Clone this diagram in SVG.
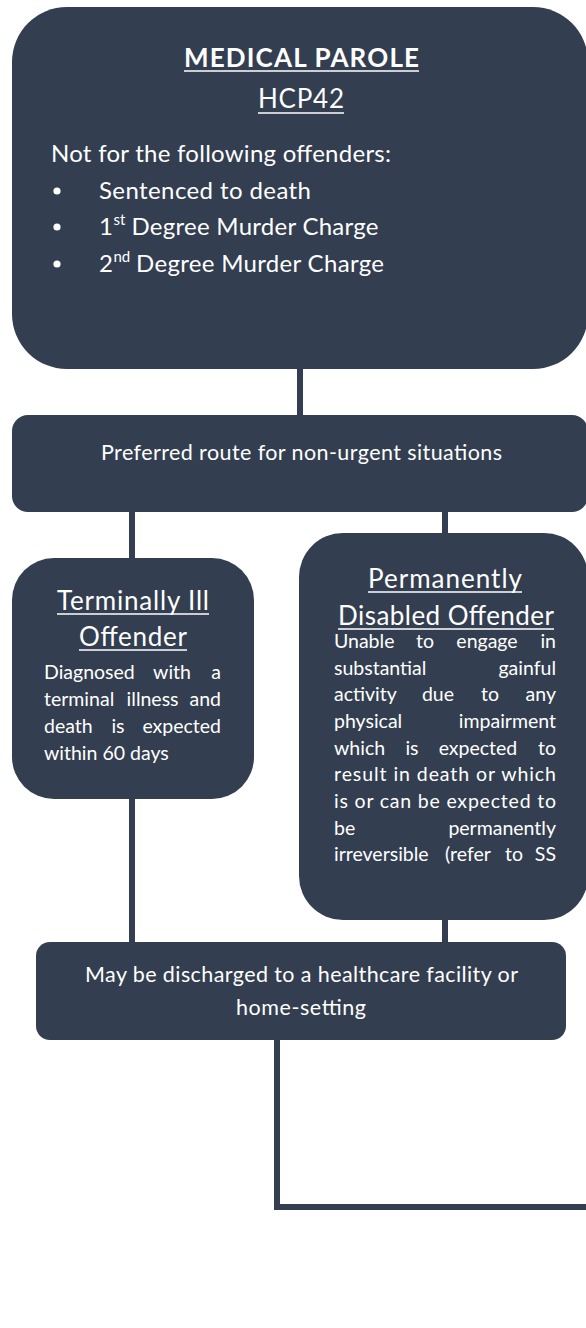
<svg xmlns="http://www.w3.org/2000/svg" width="586" height="1328" viewBox="0 0 586 1328">
<style>
.node{fill:#333e50}
.c{stroke:#333e50;stroke-width:6;fill:none}
.t{font-family:Lato,"Open Sans","Liberation Sans",sans-serif;fill:#ffffff}
.b{font-weight:bold}
.u{stroke:#ffffff;stroke-width:1.6}
.s1{font-size:24px}
.s2{font-size:21.5px}
.s3{font-size:26px}
.s4{font-size:19.5px}
.sup{font-size:15px}
</style>
<rect width="586" height="1328" fill="#ffffff"/>
<g id="connectors">
<line class="c" x1="300" y1="360" x2="300" y2="420"/>
<line class="c" x1="132" y1="505" x2="132" y2="565"/>
<line class="c" x1="445" y1="505" x2="445" y2="540"/>
<line class="c" x1="132" y1="790" x2="132" y2="950"/>
<line class="c" x1="445" y1="910" x2="445" y2="950"/>
<polyline class="c" points="277,1030 277,1207 592,1207"/>
</g>
<g id="node-medical-parole">
<rect class="node" x="12" y="7" width="576" height="362" rx="55"/>
<text class="t b s3" x="184" y="67" textLength="235">MEDICAL PAROLE</text>
<line class="u" x1="184" y1="71" x2="419" y2="71"/>
<text class="t s3" x="258" y="108" textLength="86">HCP42</text>
<line class="u" x1="258" y1="113" x2="344" y2="113"/>
<text class="t s1" x="51" y="162" textLength="340">Not for the following offenders:</text>
<circle cx="57" cy="191" r="3.6" fill="#ffffff"/>
<circle cx="57" cy="227" r="3.6" fill="#ffffff"/>
<circle cx="57" cy="264" r="3.6" fill="#ffffff"/>
<text class="t s1" x="99" y="199" textLength="212">Sentenced to death</text>
<text class="t s1" x="99" y="235">1</text>
<text class="t sup" x="113.5" y="225">st</text>
<text class="t s1" x="131.5" y="235" textLength="247">Degree Murder Charge</text>
<text class="t s1" x="99" y="272">2</text>
<text class="t sup" x="113.5" y="262">nd</text>
<text class="t s1" x="136" y="272" textLength="248">Degree Murder Charge</text>
</g>
<g id="node-preferred-route">
<rect class="node" x="12" y="415" width="576" height="97" rx="16"/>
<text class="t s2" x="101" y="460" textLength="401">Preferred route for non-urgent situations</text>
</g>
<g id="node-terminally-ill">
<rect class="node" x="12" y="558" width="242" height="241" rx="42"/>
<text class="t s3" x="57" y="610" textLength="152">Terminally Ill</text>
<line class="u" x1="57" y1="614" x2="209" y2="614"/>
<text class="t s3" x="79" y="646" textLength="108">Offender</text>
<line class="u" x1="79" y1="650" x2="187" y2="650"/>
<g class="t s4">
<text x="44" y="679">Diagnosed</text>
<text x="172" y="679" text-anchor="middle">with</text>
<text x="221" y="679" text-anchor="end">a</text>
<text x="44" y="706">terminal</text>
<text x="152.6" y="706" text-anchor="middle">illness</text>
<text x="221" y="706" text-anchor="end">and</text>
<text x="44" y="733">death</text>
<text x="118" y="733" text-anchor="middle">is</text>
<text x="221" y="733" text-anchor="end">expected</text>
<text x="44" y="760">within 60 days</text>
</g>
</g>
<g id="node-permanently-disabled">
<rect class="node" x="299" y="533" width="289" height="387" rx="44"/>
<text class="t s3" x="368" y="588" textLength="154">Permanently</text>
<line class="u" x1="368" y1="592" x2="522" y2="592"/>
<text class="t s3" x="338" y="625" textLength="216">Disabled Offender</text>
<line class="u" x1="338" y1="629" x2="554" y2="629"/>
<g class="t s4">
<text x="334" y="648">Unable</text>
<text x="425" y="648" text-anchor="middle">to</text>
<text x="487" y="648" text-anchor="middle">engage</text>
<text x="556" y="648" text-anchor="end">in</text>
<text x="334" y="675">substantial</text>
<text x="556" y="675" text-anchor="end">gainful</text>
<text x="334" y="701">activity</text>
<text x="438" y="701" text-anchor="middle">due</text>
<text x="490" y="701" text-anchor="middle">to</text>
<text x="556" y="701" text-anchor="end">any</text>
<text x="334" y="728">physical</text>
<text x="556" y="728" text-anchor="end">impairment</text>
<text x="334" y="755">which</text>
<text x="412" y="755" text-anchor="middle">is</text>
<text x="478" y="755" text-anchor="middle">expected</text>
<text x="556" y="755" text-anchor="end">to</text>
<text x="334" y="781" textLength="222">result in death or which</text>
<text x="334" y="808" textLength="222">is or can be expected to</text>
<text x="334" y="835">be</text>
<text x="556" y="835" text-anchor="end">permanently</text>
<text x="334" y="861">irreversible</text>
<text x="468" y="861" text-anchor="middle">(refer</text>
<text x="514" y="861" text-anchor="middle">to</text>
<text x="556" y="861" text-anchor="end">SS</text>
</g>
</g>
<g id="node-discharge">
<rect class="node" x="36" y="942" width="530" height="98" rx="14"/>
<text class="t s2" x="85" y="982" textLength="433">May be discharged to a healthcare facility or</text>
<text class="t s2" x="236" y="1015" textLength="130">home-setting</text>
</g>
</svg>
